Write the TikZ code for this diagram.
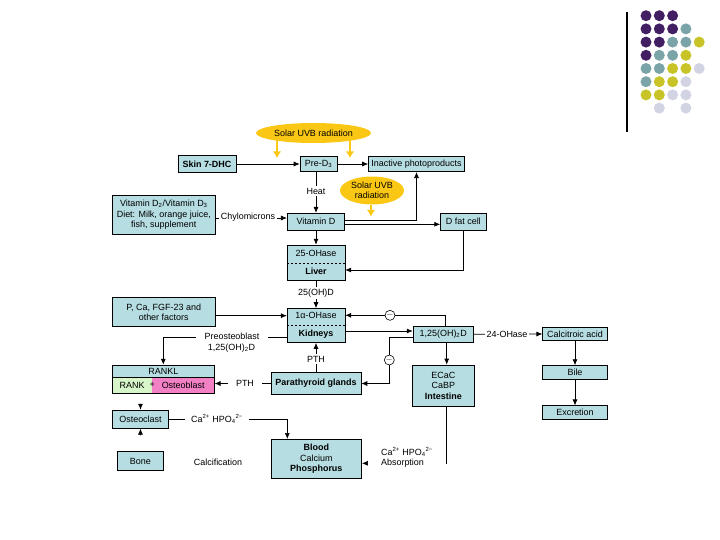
\documentclass[tikz,border=0pt]{standalone}
\usepackage{fontspec}
\setmainfont{Liberation Sans}
\usepackage{xcolor}
\usetikzlibrary{arrows.meta,calc,shapes.geometric}
\definecolor{figFill}{RGB}{182,221,226}
\definecolor{figSun}{RGB}{250,200,20}
\definecolor{figGreen}{RGB}{214,245,200}
\definecolor{figPink}{RGB}{242,128,196}
\definecolor{dotPurple}{RGB}{66,30,98}
\definecolor{dotTeal}{RGB}{122,164,168}
\definecolor{dotOlive}{RGB}{200,196,40}
\definecolor{dotGrey}{RGB}{210,212,228}

\begin{document}
\begin{tikzpicture}[
  x=1bp,
  y=-1bp,
  >=Latex,
  font=\fontsize{9}{10.5}\selectfont,
  box/.style={draw=black, fill=figFill, line width=0.6pt, inner sep=0pt, align=center},
  sun/.style={ellipse, fill=figSun, inner sep=0pt, align=center},
  tag/.style={fill=white, inner sep=2pt, align=center},
  inhibit/.style={circle, draw=black, fill=white, line width=0.6pt, inner sep=0pt, minimum size=10bp},
  line/.style={-{Latex[length=6bp,width=5bp]}, draw=black, line width=0.7pt},
  uv/.style={-{Latex[length=6.5bp,width=8.5bp]}, draw=figSun, line width=2.6pt}
]
\useasboundingbox (0,0) rectangle (720,540);

\draw[line width=1.2pt] (627,12) -- (627,132);
\foreach \i/\j/\tint in {1/1/dotPurple,2/1/dotPurple,3/1/dotPurple,
  1/2/dotPurple,2/2/dotPurple,3/2/dotPurple,4/2/dotTeal,
  1/3/dotPurple,2/3/dotPurple,3/3/dotTeal,4/3/dotTeal,5/3/dotOlive,
  1/4/dotPurple,2/4/dotTeal,3/4/dotTeal,4/4/dotOlive,
  1/5/dotTeal,2/5/dotTeal,3/5/dotOlive,4/5/dotOlive,5/5/dotGrey,
  1/6/dotTeal,2/6/dotOlive,3/6/dotOlive,4/6/dotGrey,
  1/7/dotOlive,2/7/dotOlive,3/7/dotGrey,4/7/dotGrey,
  2/8/dotGrey,4/8/dotGrey}
  \fill[\tint] ({646+13.3*(\i-1)},{15.7+13.2*(\j-1)}) circle[radius=5.5bp];

\node[sun, minimum width=115bp, minimum height=20bp] (uvb) at (313.5,133) {Solar UVB radiation};
\node[box, minimum width=58bp, minimum height=16.5bp] (skin) at (207,164) {\textbf{Skin 7-DHC}};
\node[box, minimum width=37bp, minimum height=15bp] (pre) at (318.5,164) {Pre-D\textsubscript{3}};
\node[box, minimum width=96bp, minimum height=15.5bp] (inactive) at (416.5,164) {Inactive photoproducts};
\node[sun, minimum width=64bp, minimum height=28bp] (uvb2) at (372,190.5) {Solar UVB\\radiation};
\node[box, minimum width=102.3bp, minimum height=39.3bp] (diet) at (163.8,214.7) {Vitamin D\textsubscript{2}/Vitamin D\textsubscript{3}\\Diet: Milk, orange juice,\\fish, supplement};
\node[box, minimum width=57.5bp, minimum height=17bp] (vitd) at (316,221.7) {Vitamin D};
\node[box, minimum width=45.5bp, minimum height=16.7bp] (fat) at (463.3,221.7) {D fat cell};
\node[box, minimum width=57.7bp, minimum height=35.5bp] (liver) at (316,262.8) {25-OHase\\[7.5bp]\textbf{Liver}};
\node[box, minimum width=102.7bp, minimum height=29bp] (factors) at (163.7,312.2) {P, Ca, FGF-23 and\\other factors};
\node[box, minimum width=57.7bp, minimum height=34bp] (kidneys) at (316,325.5) {1α-OHase\\[7.5bp]\textbf{Kidneys}};
\node[box, minimum width=60.3bp, minimum height=16.7bp] (calcitriol) at (443.2,334.3) {1,25(OH)\textsubscript{2}D};
\node[box, minimum width=64.6bp, minimum height=13.5bp] (acid) at (575,334) {Calcitroic acid};
\node[box, minimum width=64.6bp, minimum height=13.5bp] (bile) at (575,372.3) {Bile};
\node[box, minimum width=64.6bp, minimum height=13.5bp] (excretion) at (575,412.5) {Excretion};
\node[box, minimum width=61.3bp, minimum height=41.7bp] (intestine) at (443.3,385.8) {ECaC\\CaBP\\\textbf{Intestine}};
\node[box, minimum width=90bp, minimum height=21.7bp] (parathyroid) at (316,383.5) {\textbf{Parathyroid glands}};
\node[box, minimum width=102bp, minimum height=12.3bp] (rankl) at (163.3,371.2) {RANKL};
\node[fill=figGreen, minimum width=39.7bp, minimum height=16bp, inner sep=0pt] (rank) at (132.2,385.3) {RANK};
\node[fill=figPink, minimum width=62.3bp, minimum height=16bp, inner sep=0pt] (blast) at (183.2,385.3) {Osteoblast};
\draw[line width=0.6pt] (rank.north west) rectangle (blast.south east);
\node[inner sep=0pt] (plus) at (152.3,385.3) {+};
\node[box, minimum width=55.6bp, minimum height=18.3bp] (osteoclast) at (140.5,419.2) {Osteoclast};
\node[box, minimum width=46bp, minimum height=19bp] (bone) at (140.3,461.2) {Bone};
\node[box, minimum width=90.7bp, minimum height=39bp] (blood) at (316.3,458.8) {\textbf{Blood}\\Calcium\\\textbf{Phosphorus}};
\node (calcif) at (218,462) {Calcification};

\draw[dashed, dash pattern=on 2.5bp off 1.5bp, line width=0.6pt] (liver.west) -- (liver.east);
\draw[dashed, dash pattern=on 2.5bp off 1.5bp, line width=0.6pt] (kidneys.west) -- (kidneys.east);

\coordinate (uvl) at (277,158);
\coordinate (uvr) at (350,158);
\coordinate (uvm) at (371,216.5);
\draw[uv, shorten <=-3bp] (uvb.south -| uvl) -- (uvl);
\draw[uv, shorten <=-3bp] (uvb.south -| uvr) -- (uvr);
\draw[uv] (uvb2.south -| uvm) -- (uvm);

\draw[line] (skin.east) -- (pre.west);
\draw[line] (pre.east) -- (inactive.west);
\draw[line] (vitd.north |- pre.south) -- (vitd.north);
\coordinate (dv) at ($(diet.east)+(0,3.3)$);
\draw[line] (dv) -- (dv -| vitd.west);
\coordinate (vi) at ($(vitd.east)+(0,-1)$);
\draw[line] (vi) -| (inactive.south);
\coordinate (vf) at ($(vitd.east)+(0,2.6)$);
\draw[line] (vf) -- (vf -| fat.west);
\draw[line] (vitd.south) -- (liver.north);
\coordinate (fl) at ($(liver.east)+(0,7.2)$);
\draw[line] (fat.south) |- (fl);
\draw[line] (liver.south) -- (kidneys.north);
\coordinate (fk) at ($(factors.east)+(0,3.5)$);
\draw[line] (fk) -- (fk -| kidneys.west);
\coordinate (kb) at ($(kidneys.west)+(0,12.2)$);
\draw[line] (kb) -| (rankl.north);
\coordinate (kc) at ($(kidneys.east)+(0,5.5)$);
\draw[line] (kc) -- (kc -| calcitriol.west);
\coordinate (cn) at ($(calcitriol.north)+(2.5,0)$);
\coordinate (ck) at ($(kidneys.east)+(0,-10.2)$);
\draw[line] (cn) |- (ck);
\coordinate (cp) at ($(calcitriol.west)+(0,3.4)$);
\coordinate (n2) at (389.3,360);
\draw[line] (cp) -| (n2) |- (parathyroid.east);
\coordinate (cs) at ($(calcitriol.south)+(3.5,0)$);
\draw[line] (cs) -- (cs |- intestine.north);
\draw[line] (calcitriol.east) -- (acid.west);
\draw[line] (acid.south) -- (bile.north);
\draw[line] (bile.south) -- (excretion.north);
\coordinate (is) at ($(intestine.south)+(3.5,0)$);
\coordinate (ib) at ($(blood.east)+(0,4.5)$);
\draw[line] (is) |- (ib);
\draw[line] (parathyroid.north) -- (kidneys.south);
\draw[line] (parathyroid.west) -- (parathyroid.west -| blast.east);
\draw[line, shorten <=10bp] (osteoclast.north |- rank.south) -- (osteoclast.north);
\draw[line, shorten <=16bp] (bone.north) -- (osteoclast.south);
\coordinate (cb) at ($(blood.north)+(-29,0)$);
\draw[line] (osteoclast.east) -| (cb);

\node[tag] (heat) at (316,191) {Heat};
\node[tag] (chylo) at (248,217.5) {Chylomicrons};
\node[tag] (ohd) at (316,293) {25(OH)D};
\node[tag, inner xsep=9bp] (pob) at (232,336.5) {Preosteoblast};
\node (pobd) at (231.5,348.5) {1,25(OH)\textsubscript{2}D};
\node[tag] (pthk) at (316,359) {PTH};
\node[tag, inner xsep=8bp] (ptho) at (245,383.3) {PTH};
\node[tag] (ohase) at (507,334) {24-OHase};
\node[tag, inner xsep=6bp] (caphos) at (217,419) {Ca\textsuperscript{2+} HPO\textsubscript{4}\textsuperscript{2−}};
\node[tag, align=left, minimum width=78.5bp] (absorb) at (407,457.5) {Ca\textsuperscript{2+} HPO\textsubscript{4}\textsuperscript{2−}\\Absorption};
\node[inhibit] (m1) at (390,315.3) {$-$};
\node[inhibit] (m2) at (n2) {$-$};
\end{tikzpicture}
\end{document}
